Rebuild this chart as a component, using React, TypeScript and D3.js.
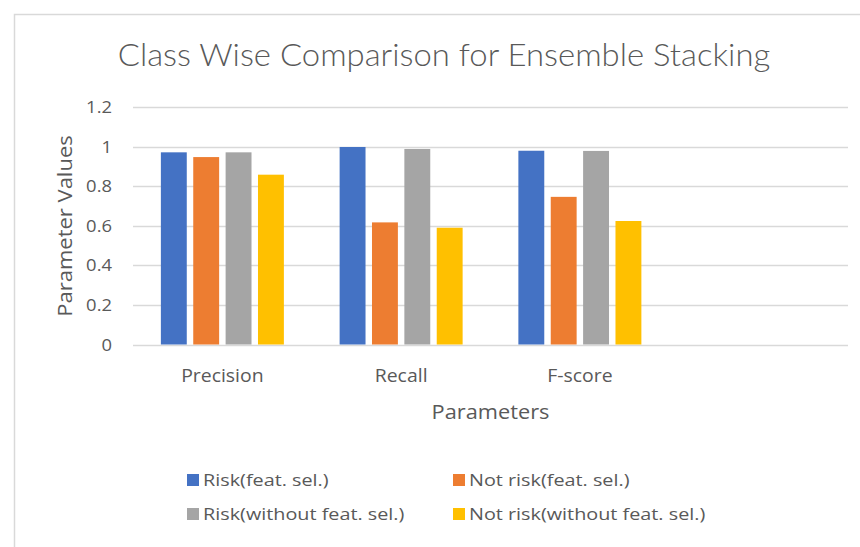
import React from "react";
import * as d3 from "d3";

const categories = ["Precision", "Recall", "F-score", ""];
const seriesNames = [
  "Risk(feat. sel.)",
  "Not risk(feat. sel.)",
  "Risk(without feat. sel.)",
  "Not risk(without feat. sel.)",
];
const seriesColors = ["#4472C4", "#ED7D31", "#A5A5A5", "#FFC000"];
const riskFeatSel = [0.971, 0.998, 0.979];
const notRiskFeatSel = [0.947, 0.617, 0.746];
const riskNoFeatSel = [0.971, 0.988, 0.978];
const notRiskNoFeatSel = [0.858, 0.59, 0.624];
const seriesValues = [riskFeatSel, notRiskFeatSel, riskNoFeatSel, notRiskNoFeatSel];
const yTicks = [0, 0.2, 0.4, 0.6, 0.8, 1, 1.2];

const W = 860;
const H = 547;
const SANS = "'Open Sans', Lato, sans-serif";
const TXT = "#595959";

function ST(props: {
  x: number;
  y: number;
  sx: number;
  size: number;
  anchor?: string;
  rot?: number;
  family?: string;
  weight?: number;
  children: React.ReactNode;
}) {
  const { x, y, sx, size, anchor, rot, family, weight, children } = props;
  return (
    <text
      transform={`translate(${x},${y})${rot ? ` rotate(${rot})` : ""} scale(${sx},1)`}
      textAnchor={anchor || "start"}
      fontSize={size}
      fontFamily={family || SANS}
      fontWeight={weight || 400}
      fill={TXT}
    >
      {children}
    </text>
  );
}

export default function App() {
  const x = d3.scaleBand<string>().domain(categories).range([133, 848]).paddingInner(0).paddingOuter(0);
  const xInner = d3.scaleBand<string>().domain(seriesNames).range([-61.5, 61.5]).paddingInner(0.2);
  const y = d3.scaleLinear().domain([0, 1.2]).range([344.5, 107]);

  const legendPos = [
    { x: 187, y: 486 },
    { x: 453, y: 486 },
    { x: 187, y: 520 },
    { x: 453, y: 520 },
  ];

  return (
    <svg width={W} height={H} style={{ position: "absolute", left: 0, top: 0, background: "#fff" }}>
      <rect x={14.5} y={14.5} width={W + 10} height={H + 10} fill="#fff" stroke="#d9d9d9" strokeWidth={1.5} />
      <ST x={444} y={66} sx={1.06} size={31} anchor="middle" family="Lato, sans-serif" weight={300}>
        Class Wise Comparison for Ensemble Stacking
      </ST>
      {yTicks.map((t) => (
        <g key={t}>
          <line x1={133} x2={848} y1={Math.round(y(t)) + 0.5} y2={Math.round(y(t)) + 0.5} stroke="#d9d9d9" strokeWidth={1.3} />
          <ST x={112} y={y(t) + 6} sx={1.15} size={16} anchor="end">
            {String(t)}
          </ST>
        </g>
      ))}
      {categories.map((c, ci) =>
        c === ""
          ? null
          : seriesNames.map((s, si) => {
              const v = seriesValues[si][ci];
              const cx = (x(c) as number) + x.bandwidth() / 2;
              const bx = cx + (xInner(s) as number);
              return (
                <rect
                  key={c + s}
                  x={bx}
                  y={y(v)}
                  width={xInner.bandwidth()}
                  height={y(0) - y(v)}
                  fill={seriesColors[si]}
                />
              );
            })
      )}
      {categories.map((c) =>
        c === "" ? null : (
          <ST key={c} x={(x(c) as number) + x.bandwidth() / 2} y={382} sx={1.08} size={18} anchor="middle">
            {c}
          </ST>
        )
      )}
      <ST x={490.5} y={419} sx={1.09} size={20} anchor="middle">
        Parameters
      </ST>
      <ST x={72} y={226} rot={-90} sx={1.1} size={20} anchor="middle">
        Parameter Values
      </ST>
      {seriesNames.map((s, i) => (
        <g key={s}>
          <rect x={legendPos[i].x} y={legendPos[i].y - 12} width={12} height={12} fill={seriesColors[i]} />
          <ST x={legendPos[i].x + 16} y={legendPos[i].y} sx={1.2} size={16.5}>
            {s}
          </ST>
        </g>
      ))}
    </svg>
  );
}
